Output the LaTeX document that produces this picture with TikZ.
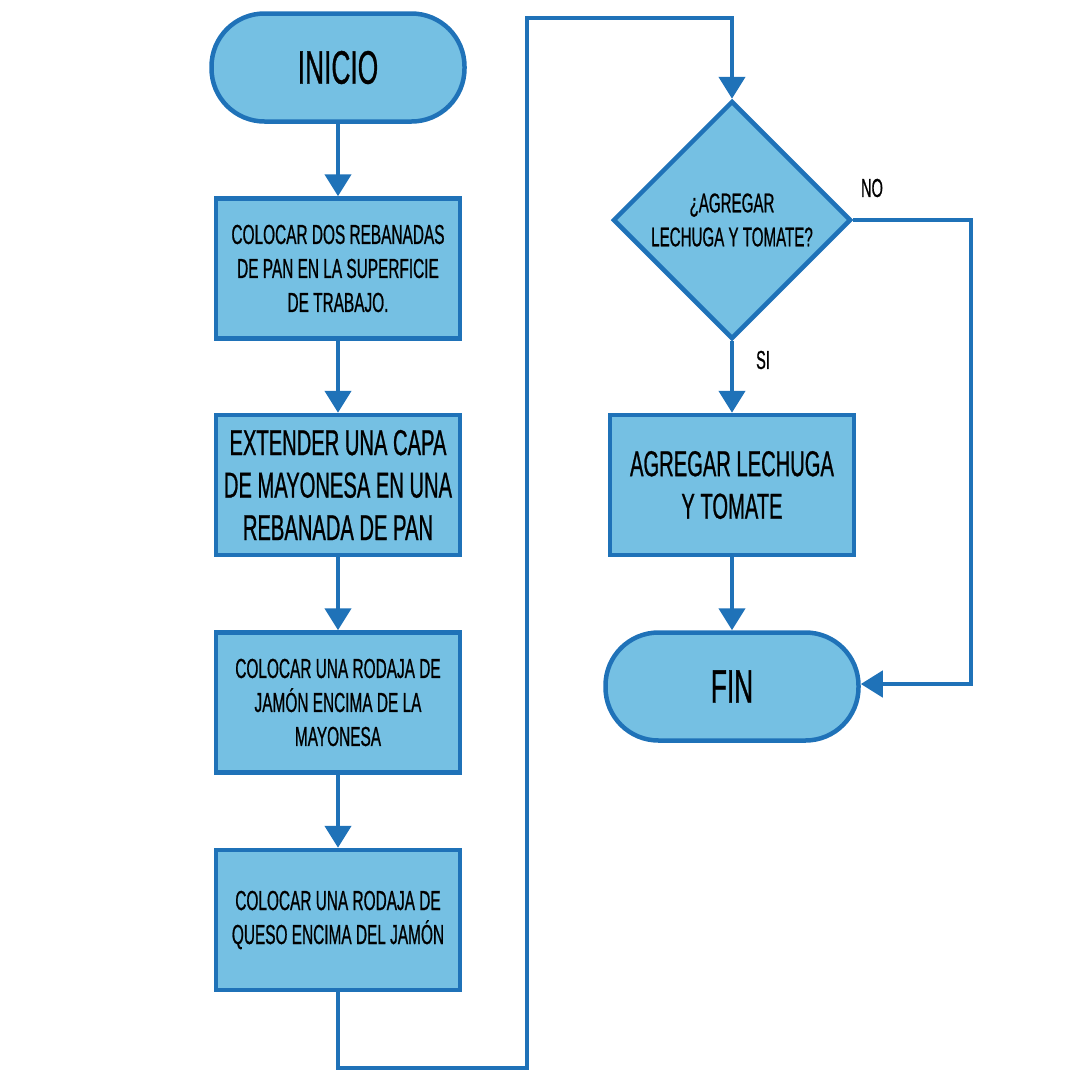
\documentclass[tikz,border=0pt]{standalone}
\usepackage{fontspec}
\setmainfont{Liberation Sans}[FakeStretch=0.56,FakeBold=0.7]
\usetikzlibrary{shapes.geometric,arrows.meta}
\definecolor{edgeblue}{HTML}{1F72B8}
\definecolor{fillblue}{HTML}{75C0E3}
\begin{document}
\begin{tikzpicture}[x=1pt,y=-1pt,
  shared/.style={draw=edgeblue,fill=fillblue,line width=4.5pt,inner sep=0pt,align=center,text=black},
  stepbox/.style={shared,minimum width=244pt,minimum height=140pt},
  smalltxt/.style={font=\fontsize{27.5}{34}\selectfont},
  bigtxt/.style={font=\fontsize{36}{42.5}\selectfont},
  terminal/.style={shared,minimum width=253pt,minimum height=108pt,rounded corners=53pt,font=\fontsize{47}{50}\selectfont},
  decision/.style={shared,diamond,aspect=1,minimum width=238pt,minimum height=238pt,line join=miter,font=\fontsize{27}{34}\selectfont},
  link/.style={draw=edgeblue,line width=4.5pt,line join=miter},
  arr/.style={link,-{Triangle[width=26pt,length=22pt]}},
  tag/.style={font=\fontsize{26}{30}\selectfont,inner sep=0pt}
]
\useasboundingbox (0,0) rectangle (1080,1080);

% left column
\node[terminal] (start) at (338,67.5) {INICIO};
\node[stepbox,smalltxt] (b1) at (338,268.5) {\raisebox{-4pt}{\parbox{240pt}{\centering COLOCAR DOS REBANADAS\\DE PAN EN LA SUPERFICIE\\DE TRABAJO.}}};
\node[stepbox,bigtxt] (b2) at (338,485) {EXTENDER UNA CAPA\\DE MAYONESA EN UNA\\REBANADA DE PAN};
\node[stepbox,smalltxt] (b3) at (338,702.5) {\raisebox{-4pt}{\parbox{240pt}{\centering COLOCAR UNA RODAJA DE\\JAMÓN ENCIMA DE LA\\MAYONESA}}};
\node[stepbox,smalltxt] (b4) at (338,920) {\raisebox{-2pt}{\parbox{240pt}{\centering COLOCAR UNA RODAJA DE\\QUESO ENCIMA DEL JAMÓN}}};

% right column
\node[decision] (dec) at (732,220) {¿AGREGAR\\LECHUGA Y TOMATE?};
\node[stepbox,bigtxt] (b5) at (732,485) {AGREGAR LECHUGA\\Y TOMATE};
\node[terminal] (fin) at (732,686.5) {FIN};

% branch labels
\node[tag] (no) at (872,188) {NO};
\node[tag] (si) at (763,360) {SI};

% connectors
\draw[arr] (start) -- (b1);
\draw[arr] (b1) -- (b2);
\draw[arr] (b2) -- (b3);
\draw[arr] (b3) -- (b4);

\coordinate (l1) at (527,1068);
\coordinate (l2) at (527,18);
\draw[arr] (b4.south) |- (l1) -- (l2) -| (dec.north);

\draw[arr] (dec.south) -- (b5.north);
\draw[arr] (b5) -- (fin);

\coordinate (n1) at (971,684);
\draw[arr] (dec.east) -| (n1) -- (fin.east |- n1);
\end{tikzpicture}
\end{document}
